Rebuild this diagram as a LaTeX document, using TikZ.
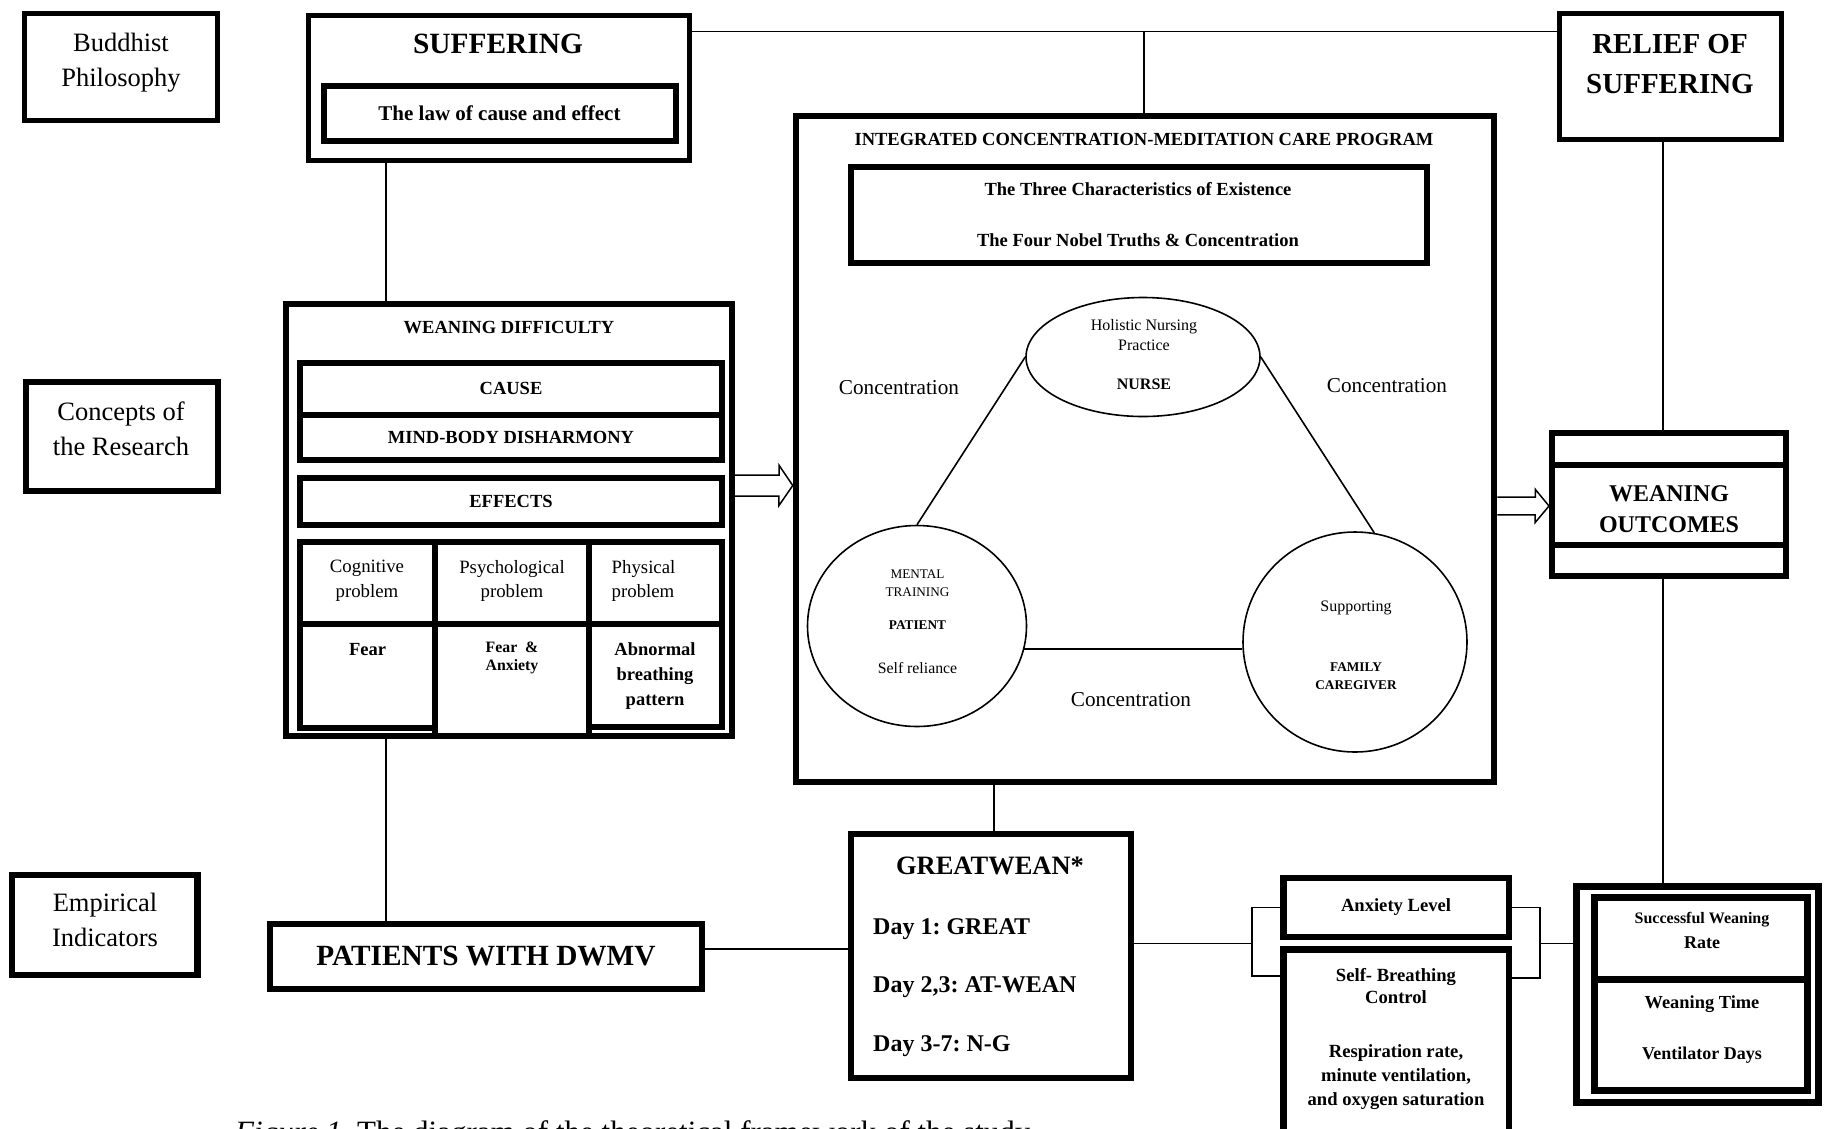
\documentclass[tikz,border=0pt]{standalone}
\usepackage{fontspec}
\setmainfont{Liberation Serif}
\usetikzlibrary{calc,positioning,shapes.geometric}
\newcommand\fsz[2]{\fontsize{#1pt}{#2pt}\selectfont}
\frenchspacing
\tikzset{framed/.style={draw, line width=6pt, inner sep=0pt}}
\tikzset{txt/.style={inner sep=0pt, align=center}}
\tikzset{ring/.style={draw, ellipse, line width=1.6pt, inner sep=0pt}}
\tikzset{link/.style={line width=1.6pt}}
\tikzset{hollow/.style={line width=1.5pt, line join=miter}}
\tikzset{headfont/.style={font=\fsz{18.5}{22}\bfseries}}

\begin{document}
\begin{tikzpicture}[x=1pt,y=-1pt]
\useasboundingbox (0,0) rectangle (1829,1128);
\fill[white] (0,0) rectangle (1829,1128);

% levels
\node[framed, line width=5pt, minimum width=193pt, minimum height=107pt] (buddh) at (121,67) {};
\node[txt, font=\fsz{26.5}{35}] (buddhtxt) at (121,63) {Buddhist\\Philosophy};
\node[framed, minimum width=192pt, minimum height=109pt] (conc) at (121.7,436.7) {};
\node[txt, font=\fsz{26.5}{35}] (conctxt) at (121,428.5) {Concepts of\\the Research};
\node[framed, line width=6.5pt, minimum width=185.5pt, minimum height=100pt] (emp) at (104.7,925) {};
\node[txt, font=\fsz{26.5}{35}] (emptxt) at (105,920) {Empirical\\Indicators};

% buddhist philosophy row
\node[framed, line width=5pt, minimum width=381pt, minimum height=145.5pt] (suff) at (499,87.75) {};
\node[txt, font=\fsz{29.4}{34}\bfseries] (sufftxt) at (498,44) {SUFFERING};
\node[framed, minimum width=352pt, minimum height=55pt, font=\fsz{21}{25}\bfseries] (law) at (499.5,113.5) {The law of cause and effect};
\node[framed, line width=5pt, minimum width=222pt, minimum height=126pt] (relief) at (1670.5,76.5) {};
\node[txt, font=\fsz{29}{39.5}\bfseries] (relieftxt) at (1670,64) {RELIEF OF\\SUFFERING};

% care program
\node[framed, line width=6.5pt, minimum width=698pt, minimum height=666pt] (icmcp) at (1145,449) {};
\node[txt, headfont] (icmcptitle) at (1144,139) {INTEGRATED CONCENTRATION-MEDITATION CARE PROGRAM};
\node[framed, minimum width=576pt, minimum height=95.5pt] (truths) at (1139,215) {};
\node[txt, headfont] (three) at (1138,189) {The Three Characteristics of Existence};
\node[txt, headfont] (four) at (1138,240) {The Four Nobel Truths \& Concentration};

\node[ring, minimum width=234pt, minimum height=119pt] (nurse) at (1143,357) {};
\node[txt, font=\fsz{16}{20}] (nursetop) at (1144,335.5) {Holistic Nursing\\Practice};
\node[txt, font=\fsz{16}{20}\bfseries] (nursetxt) at (1144,384.5) {NURSE};
\node[ring, minimum width=219pt, minimum height=201pt] (patient) at (917,626) {};
\node[txt, font=\fsz{13.2}{17.4}] (mental) at (917.5,583) {MENTAL\\TRAINING};
\node[txt, font=\fsz{13.3}{16}\bfseries] (patienttxt) at (917.5,625) {PATIENT};
\node[txt, font=\fsz{15.8}{19}] (reliance) at (917.5,668) {Self reliance};
\node[ring, minimum width=224pt, minimum height=220pt] (family) at (1355,642) {};
\node[txt, font=\fsz{16}{19}] (support) at (1356,607.5) {Supporting};
\node[txt, font=\fsz{13.3}{17.9}\bfseries] (familytxt) at (1356,676) {FAMILY\\CAREGIVER};

\draw[link] (nurse.west) -- (patient.north);
\draw[link] (nurse.east) -- (family.80);
\draw[link] (patient.-12) -- (patient.-12 -| family.west);
\node[txt, font=\fsz{21.2}{25}] (concl) at (899,388) {Concentration};
\node[txt, font=\fsz{21.2}{25}] (concr) at (1387,386) {Concentration};
\node[txt, font=\fsz{21.2}{25}] (concb) at (1131,700) {Concentration};

% weaning difficulty
\node[framed, minimum width=446.3pt, minimum height=431.8pt] (wd) at (508.85,519.6) {};
\node[txt, headfont] (wdtitle) at (509,327.5) {WEANING DIFFICULTY};
\node[framed, headfont, minimum width=422.5pt, minimum height=52pt] (cause) at (511,388.7) {CAUSE};
\node[framed, headfont, minimum width=422.5pt, minimum height=45.3pt] (mind) at (511,437.35) {MIND-BODY DISHARMONY};
\node[framed, headfont, minimum width=422.5pt, minimum height=46.7pt] (effects) at (511,501.65) {EFFECTS};
\node[framed, minimum width=135.3pt, minimum height=82.6pt] (cogA) at (367.35,583) {};
\node[framed, minimum width=154.2pt, minimum height=82.6pt] (psyA) at (512.1,583) {};
\node[framed, minimum width=133pt, minimum height=82.6pt] (phyA) at (655.7,583) {};
\node[framed, minimum width=135.3pt, minimum height=104pt] (cogB) at (367.35,676.3) {};
\node[framed, minimum width=154.2pt, minimum height=111.2pt] (psyB) at (512.1,679.9) {};
\node[framed, minimum width=133pt, minimum height=102.4pt] (phyB) at (655.7,675.5) {};
\node[txt, font=\fsz{18.8}{24.6}] (cogtxt) at (367,581) {Cognitive\\problem};
\node[txt, font=\fsz{18.8}{24.6}] (psytxt) at (512,581) {Psychological\\problem};
\node[txt, align=left, anchor=west, font=\fsz{18.8}{24.6}] (phytxt) at (611.5,581) {Physical\\problem};
\node[txt, font=\fsz{18.5}{22}\bfseries] (fear) at (367.5,650) {Fear};
\node[txt, font=\fsz{15.8}{18.3}\bfseries] (fearanx) at (512,658) {Fear\ \ \&\\Anxiety};
\node[txt, font=\fsz{18.5}{24.7}\bfseries] (abnormal) at (655,676) {Abnormal\\breathing\\pattern};

% outcomes
\node[framed, minimum width=233.5pt, minimum height=142.5pt] (wo) at (1668.75,504.25) {};
\draw[line width=6pt] ($(wo.north west)+(0,35)$) -- ($(wo.north east)+(0,35)$);
\draw[line width=6pt] ($(wo.south west)+(0,-33.5)$) -- ($(wo.south east)+(0,-33.5)$);
\node[txt, font=\fsz{24}{31.5}\bfseries] (wotxt) at (1669,509) {WEANING\\OUTCOMES};

% empirical indicators
\node[framed, minimum width=432pt, minimum height=65.3pt, font=\fsz{29.3}{34}\bfseries] (pd) at (486,956.35) {PATIENTS WITH DWMV};
\node[framed, minimum width=280.6pt, minimum height=244.3pt] (gw) at (991,955.85) {};
\node[anchor=base, inner sep=0pt, font=\fsz{26.5}{30}\bfseries] (gwtitle) at (990,874) {GREATWEAN*};
\node[txt, align=left, anchor=north west, font=\fsz{24}{58.5}\bfseries] (gwdays) at (873,918) {Day 1: GREAT\\Day 2,3: AT-WEAN\\Day 3-7: N-G};
\node[framed, line width=6.5pt, minimum width=225.5pt, minimum height=59.2pt, font=\fsz{18.6}{22}\bfseries] (anx) at (1396,907.5) {Anxiety Level};
\node[framed, line width=6.5pt, minimum width=225.5pt, minimum height=187.5pt] (sb) at (1396,1043) {};
\node[txt, font=\fsz{18.6}{22}\bfseries] (sbtop) at (1396,986) {Self- Breathing\\Control};
\node[txt, font=\fsz{18.6}{24.3}\bfseries] (sbbot) at (1396,1077) {Respiration rate,\\minute ventilation,\\and oxygen saturation};
\node[framed, line width=7pt, minimum width=242pt, minimum height=216pt] (out) at (1697.5,994.5) {};
\node[framed, line width=7pt, minimum width=213pt, minimum height=193pt] (outin) at (1701,994) {};
\coordinate (divY) at (0,979);
\draw[line width=7pt] (outin.west |- divY) -- (outin.east |- divY);
\node[txt, font=\fsz{16}{19}\bfseries] (success) at (1702,920) {Successful Weaning};
\node[txt, font=\fsz{18}{21}\bfseries] (rate) at (1702,943) {Rate};
\node[txt, font=\fsz{18.4}{22}\bfseries] (wtime) at (1702,1004) {Weaning Time};
\node[txt, font=\fsz{18}{22}\bfseries] (vdays) at (1702,1055) {Ventilator Days};

\node[anchor=base west, inner sep=0pt, font=\fsz{31}{36}] (caption) at (235,1142) {\textit{Figure 1.} The diagram of the theoretical framework of the study};

% connectors
\coordinate (topY) at (0,31.5);
\coordinate (axC) at (1144,31.5);
\coordinate (axL) at (386,0);
\coordinate (axR) at (1663,0);
\coordinate (axG) at (993.7,0);
\coordinate (axP) at (0,949);
\draw[link] (suff.east |- topY) -- (relief.west |- topY);
\draw[link] (axC) -- (icmcp.north -| axC);
\draw[link] (suff.south -| axL) -- (wd.north -| axL);
\draw[link] (wd.south -| axL) -- (pd.north -| axL);
\draw[link] (relief.south -| axR) -- (wo.north -| axR);
\draw[link] (wo.south -| axR) -- (out.north -| axR);
\draw[link] (icmcp.south -| axG) -- (gw.north -| axG);
\draw[link] (pd.east |- axP) -- (gw.west |- axP);

\coordinate (brkL) at (1252,943.3);
\coordinate (brkR) at (1540,943.3);
\coordinate (sbL) at (0,976);
\coordinate (sbR) at (0,978);
\draw[link] (gw.east |- brkL) -- (brkL);
\draw[link] (anx.west) -| (brkL) |- (sb.west |- sbL);
\draw[link] (anx.east) -| (brkR) |- (sb.east |- sbR);
\draw[link] (brkR) -- (out.west |- brkR);

% hollow arrows
\coordinate (daY) at (0,485.5);
\coordinate (oaY) at (0,506);
\draw[hollow] ($(wd.east |- daY)+(0,-10.5)$) -- ++(44,0) -- ++(0,-9.8) -- (icmcp.west |- daY)
  -- ++(-14,20.3) -- ++(0,-9.8) -- ($(wd.east |- daY)+(0,10.5)$);
\draw[hollow] ($(icmcp.east |- oaY)+(0,-8.85)$) -- ++(38,0) -- ++(0,-7.85) -- (wo.west |- oaY)
  -- ++(-14,16.7) -- ++(0,-7.85) -- ($(icmcp.east |- oaY)+(0,8.85)$);
\end{tikzpicture}
\end{document}
